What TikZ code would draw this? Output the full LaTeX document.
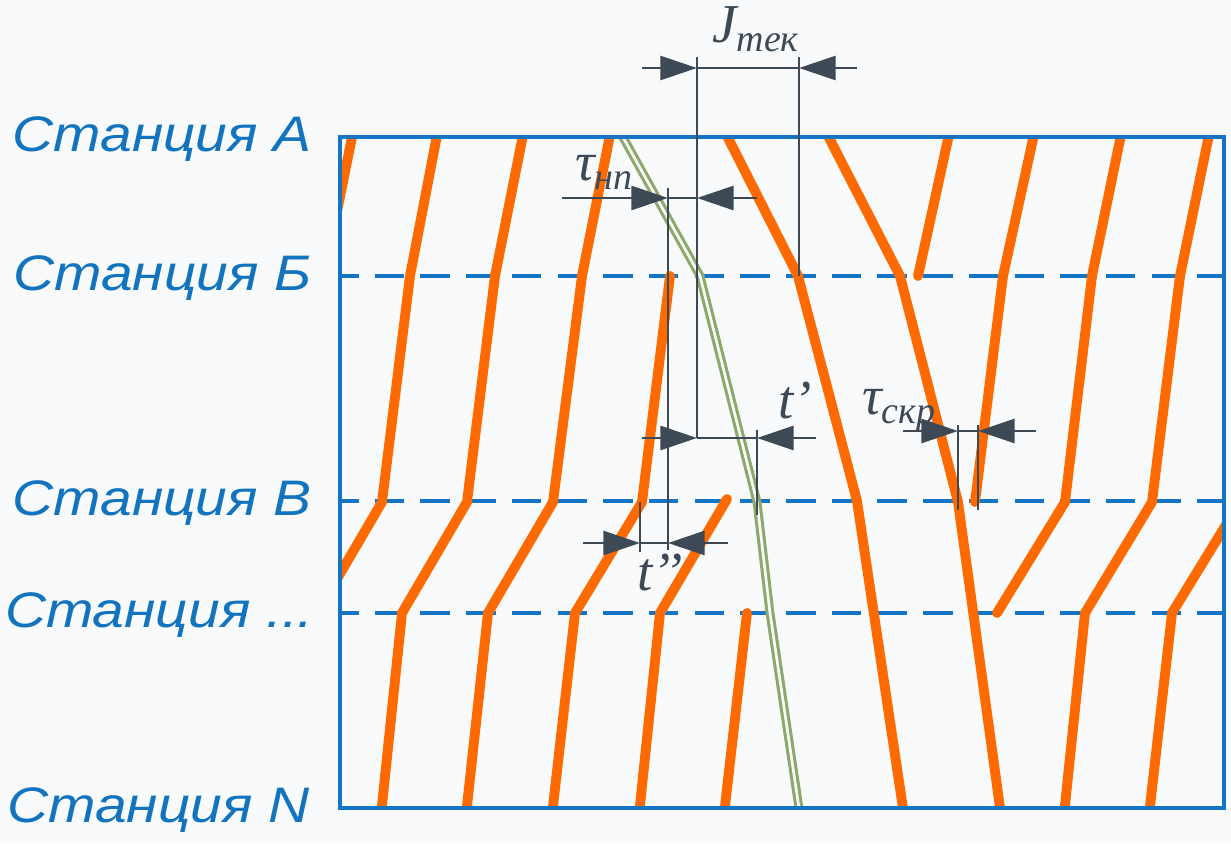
\documentclass[tikz,border=0pt]{standalone}
\usepackage{fontspec}
\setmainfont{Liberation Serif}
\newfontfamily\stationfont{Liberation Sans}[FakeStretch=1.14]
\usetikzlibrary{arrows.meta}

\definecolor{bgcol}{RGB}{248,250,252}
\definecolor{stblue}{RGB}{18,115,190}
\definecolor{frameblue}{RGB}{20,117,196}
\definecolor{trainorange}{RGB}{255,106,0}
\definecolor{expressgreen}{RGB}{142,168,106}
\definecolor{dimgray}{RGB}{61,74,86}

% label with a lowered subscript in text mode
\newcommand{\dimlabel}[2]{#1\raisebox{-7pt}{\fontsize{27}{27}\selectfont #2}}

\begin{document}
\begin{tikzpicture}[
    x=0.025cm, y=-0.025cm,
    station/.style={anchor=base east, inner sep=0pt, text=stblue, font=\stationfont\itshape\fontsize{35.5}{36}\selectfont},
    frame/.style={draw=frameblue, line width=2.2pt},
    stopline/.style={draw=frameblue, line width=2.2pt, dash pattern=on 21pt off 11.5pt, dash phase=7.8pt},
    train/.style={draw=trainorange, line width=7pt, line cap=round, line join=round},
    express/.style={draw=expressgreen, line width=2.2pt, double=bgcol, double distance=1.9pt},
    dim/.style={draw=dimgray, line width=2pt},
    tip/.style={-{Triangle[length=26pt,width=17pt]}},
    dimtext/.style={anchor=base west, inner sep=0pt, text=dimgray, font=\itshape\fontsize{39}{40}\selectfont}
  ]
  \useasboundingbox[fill=bgcol] (0,0) rectangle (1231,843);

  % stations
  \node (sA) [station] at (312,151) {Станция А};
  \node (sB) [station] at (312,290) {Станция Б};
  \node (sV) [station] at (312,515) {Станция В};
  \node (sD) [station] at (314,627) {Станция ...};
  \node (sN) [station] at (310,822) {Станция N};

  \draw[stopline] (340,276) -- (1224,276);
  \draw[stopline] (340,501) -- (1224,501);
  \draw[stopline] (340,613) -- (1224,613);

  % train paths
  \begin{scope}
    \clip (340,137) rectangle (1224,808);
    \draw[train] (352,137) -- (324,276);
    \draw[train] (438,130) -- (410,276) -- (382,502) -- (317,613);
    \draw[train] (524,130) -- (495,276) -- (467,502) -- (402,613) -- (381,815);
    \draw[train] (611,130) -- (582,276) -- (553,502) -- (488,613) -- (466,815);
    \draw[train] (670,276) -- (642,502) -- (575,613) -- (552,815);
    \draw[train] (727,499) -- (660,613) -- (639,815);
    \draw[train] (747,613) -- (724,815);
    \draw[train] (724,130) -- (798,276) -- (857,501) -- (904,815);
    \draw[train] (825,130) -- (900,276) -- (958,502) -- (1001,815);
    \draw[train] (950,130) -- (918,276);
    \draw[train] (1035,130) -- (1003,276) -- (975,502);
    \draw[train] (1122,130) -- (1092,276) -- (1065,502) -- (997,613);
    \draw[train] (1210,130) -- (1180,276) -- (1152,502) -- (1085,613) -- (1064,815);
    \draw[train] (1240,502) -- (1172,613) -- (1149,815);
    \draw[express] (619,130) -- (700,276) -- (757,502) -- (770,613) -- (800,815);
  \end{scope}

  \draw[frame] (340,137) rectangle (1224,808);

  % J_tek
  \coordinate (jL) at (697,68);
  \coordinate (jR) at (799,68);
  \draw[dim] (697,57) -- (697,438);
  \draw[dim] (799,57) -- (799,276);
  \draw[dim,tip] (642,68) -- (jL);
  \draw[dim,tip] (857,68) -- (jR);
  \draw[dim] (jL) -- (jR);
  \node (lJ) [dimtext] at (712,42) {\dimlabel{J}{тек}};

  % tau_np
  \coordinate (nL) at (668,198);
  \coordinate (nR) at (697,198);
  \draw[dim] (668,188) -- (668,550);
  \draw[dim,tip] (562,198) -- (nL);
  \draw[dim,tip] (757,198) -- (nR);
  \draw[dim] (nL) -- (nR);
  \node (lN) [dimtext] at (575,180) {\dimlabel{τ}{нп}};

  % t'
  \coordinate (aL) at (697,438);
  \coordinate (aR) at (757,438);
  \draw[dim] (757,430) -- (757,515);
  \draw[dim,tip] (642,438) -- (aL);
  \draw[dim,tip] (816,438) -- (aR);
  \draw[dim] (aL) -- (aR);
  \node (lA) [dimtext] at (778,418) {t’};

  % t''
  \coordinate (bL) at (640,543);
  \coordinate (bR) at (668,543);
  \draw[dim] (640,502) -- (640,552);
  \draw[dim,tip] (583,543) -- (bL);
  \draw[dim,tip] (728,543) -- (bR);
  \draw[dim] (bL) -- (bR);
  \node (lB) [dimtext] at (637,590) {t’’};

  % tau_skr
  \coordinate (cL) at (958,431);
  \coordinate (cR) at (978,431);
  \draw[dim] (958,425) -- (958,510);
  \draw[dim] (978,425) -- (978,510);
  \draw[dim,tip] (903,431) -- (cL);
  \draw[dim,tip] (1036,431) -- (cR);
  \draw[dim] (cL) -- (cR);
  \node (lC) [dimtext] at (862,414) {\dimlabel{τ}{скр}};
\end{tikzpicture}
\end{document}
